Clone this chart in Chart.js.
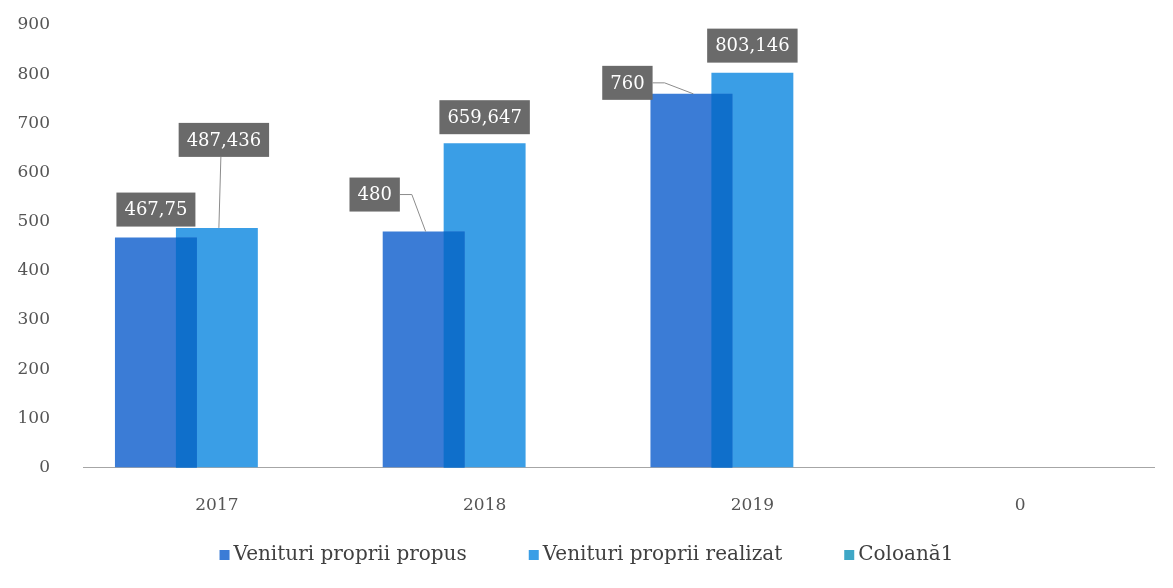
<!DOCTYPE html>
<html>
<head>
<meta charset="utf-8">
<script src="https://cdn.jsdelivr.net/npm/chart.js@4.4.1/dist/chart.umd.min.js"></script>
<style>
  html, body { margin: 0; padding: 0; background: #fff; }
  #wrap { width: 1173px; height: 588px; position: relative; }
</style>
</head>
<body>
<div id="wrap"><canvas id="veniturChart"></canvas></div>
<script>
// Date
const categorii = ['2017', '2018', '2019', '0'];
const venituriPropus = [467.75, 480, 760, null];
const venituriRealizat = [487.436, 659.647, 803.146, null];
const coloana1 = [null, null, null, null];
const tickuriY = [0, 100, 200, 300, 400, 500, 600, 700, 800, 900];

const fontSerif = '"DejaVu Serif", "Liberation Serif", serif';

// pozitia etichetelor fata de varful barei (centrul casetei)
const pozEtichete = [
    [{ dx: 0, dy: -28 }, { dx: -49, dy: -37, linie: 'cot' }, { dx: -64, dy: -11, linie: 'cot' }],
    [{ dx: 7, dy: -88, linie: 'drept' }, { dx: 0, dy: -26 }, { dx: 0, dy: -27 }]
];

function formatRo(v) {
    return String(v).replace('.', ',');
}

// suprapunerea barelor (zona mai inchisa) + etichete
const suprapunere = {
    id: 'suprapunere',
    afterDatasetsDraw(chart) {
        const ctx = chart.ctx;
        const m0 = chart.getDatasetMeta(0);
        const m1 = chart.getDatasetMeta(1);
        ctx.save();
        ctx.fillStyle = '#0f6fcb';
        m0.data.forEach((b0, i) => {
            const b1 = m1.data[i];
            if (!b0 || !b1 || venituriPropus[i] == null || venituriRealizat[i] == null) return;
            const x0 = b1.x - b1.width / 2;
            const x1 = b0.x + b0.width / 2;
            const top = Math.max(b0.y, b1.y);
            if (x1 > x0) ctx.fillRect(x0, top, x1 - x0, b0.base - top);
        });
        ctx.restore();

        // etichete cu casete gri
        ctx.save();
        ctx.font = '18px ' + fontSerif;
        ctx.textAlign = 'center';
        ctx.textBaseline = 'middle';
        [0, 1].forEach(d => {
            const meta = chart.getDatasetMeta(d);
            const vals = d === 0 ? venituriPropus : venituriRealizat;
            meta.data.forEach((bar, i) => {
                if (vals[i] == null) return;
                const p = pozEtichete[d][i];
                const txt = formatRo(vals[i]);
                const w = ctx.measureText(txt).width + 16;
                const h = 34;
                const cx = bar.x + p.dx;
                const cy = bar.y + p.dy;
                ctx.strokeStyle = '#8c8c8c';
                ctx.lineWidth = 1;
                if (p.linie === 'cot') {
                    ctx.beginPath();
                    ctx.moveTo(cx + w / 2, cy);
                    ctx.lineTo(cx + w / 2 + 12, cy);
                    ctx.lineTo(bar.x + 2, bar.y);
                    ctx.stroke();
                } else if (p.linie === 'drept') {
                    ctx.beginPath();
                    ctx.moveTo(cx - 3, cy + h / 2);
                    ctx.lineTo(bar.x + 2, bar.y);
                    ctx.stroke();
                }
                ctx.fillStyle = '#6a6a6a';
                ctx.fillRect(cx - w / 2, cy - h / 2, w, h);
                ctx.fillStyle = '#ffffff';
                ctx.fillText(txt, cx, cy + 1);
            });
        });
        ctx.restore();
    },
    // legenda desenata manual (spatiere ca in original)
    afterDraw(chart) {
        const ctx = chart.ctx;
        ctx.save();
        ctx.font = '20px ' + fontSerif;
        ctx.textBaseline = 'middle';
        ctx.textAlign = 'left';
        const items = chart.data.datasets.map(ds => ({ text: ds.label, color: ds.backgroundColor }));
        const box = 10, gapText = 4, gapItem = 62;
        const widths = items.map(it => box + gapText + ctx.measureText(it.text).width);
        const total = widths.reduce((a, b) => a + b, 0) + gapItem * (items.length - 1);
        let x = (chart.width - total) / 2;
        const y = 555;
        items.forEach((it, k) => {
            ctx.fillStyle = it.color;
            ctx.fillRect(x, y - box / 2, box, box);
            ctx.fillStyle = '#404040';
            ctx.fillText(it.text, x + box + gapText, y);
            x += widths[k] + gapItem;
        });
        ctx.restore();
    }
};

const ctx = document.getElementById('veniturChart').getContext('2d');
const grafic = new Chart(ctx, {
    type: 'bar',
    data: {
        labels: categorii,
        datasets: [
            { label: 'Venituri proprii propus', data: venituriPropus, backgroundColor: '#3b7cd6' },
            { label: 'Venituri proprii realizat', data: venituriRealizat, backgroundColor: '#3a9ee6' },
            { label: 'Coloană1', data: coloana1, backgroundColor: '#3fa7c6' }
        ]
    },
    options: {
        responsive: true,
        maintainAspectRatio: false,
        animation: false,
        datasets: {
            bar: { barPercentage: 1.344, categoryPercentage: 0.683 }
        },
        layout: { padding: { top: 25, right: 19, left: 0, bottom: 52 } },
        scales: {
            x: {
                grid: { display: false },
                border: { color: '#a6a6a6', width: 1 },
                ticks: { color: '#555', font: { family: fontSerif, size: 17 }, padding: 20 }
            },
            y: {
                min: 0,
                max: 900,
                grid: { display: false },
                border: { display: false },
                afterFit(scale) {
                    scale.width = 83;
                    scale.paddingTop = 0;
                    scale.paddingBottom = 0;
                },
                afterBuildTicks(scale) { scale.ticks = tickuriY.map(v => ({ value: v })); },
                ticks: { color: '#555', font: { family: fontSerif, size: 17 }, padding: 25 }
            }
        },
        plugins: {
            legend: { display: false },
            tooltip: { enabled: false }
        }
    },
    plugins: [suprapunere]
});
</script>
</body>
</html>
